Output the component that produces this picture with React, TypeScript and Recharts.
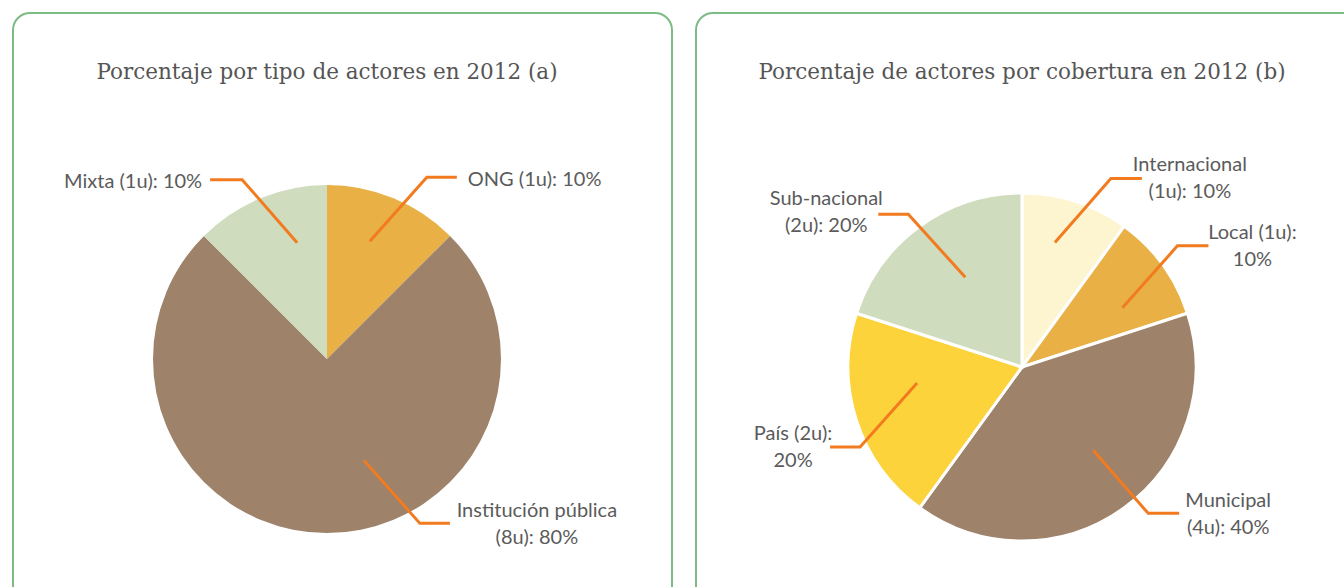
import React from 'react';
import { PieChart, Pie, Cell } from 'recharts';

// Panel (a): tipo de actores
const tipoNames = ['ONG', 'Institución pública', 'Mixta'];
const tipoShares = [12.5, 75, 12.5]; // slice sizes as drawn in the original
const tipoLabels = [['ONG (1u): 10%'], ['Institución pública', '(8u): 80%'], ['Mixta (1u): 10%']];
const tipoColors = ['#e9b045', '#9e826a', '#cfdcbe'];

// Panel (b): cobertura
const coberturaNames = ['Internacional', 'Local', 'Municipal', 'País', 'Sub-nacional'];
const coberturaShares = [10, 10, 40, 20, 20];
const coberturaLabels = [
    ['Internacional', '(1u): 10%'],
    ['Local (1u):', '10%'],
    ['Municipal', '(4u): 40%'],
    ['País (2u):', '20%'],
    ['Sub-nacional', '(2u): 20%'],
];
const coberturaColors = ['#fdf4d0', '#e9b045', '#9e826a', '#fcd33b', '#cfdcbe'];

const tipoData = tipoNames.map((name, i) => ({ name, value: tipoShares[i] }));
const coberturaData = coberturaNames.map((name, i) => ({ name, value: coberturaShares[i] }));

// leader line layout: anchor angle (deg clockwise from top), anchor distance (fraction of radius),
// elbow offset, horizontal tail, text offset from tail end
type LabelLayout = { a: number; d: number; ex: number; ey: number; h: number; tx: number; ty: number; anchor: 'start' | 'middle' | 'end' };

const tipoLayout: LabelLayout[] = [
    { a: 20, d: 0.72, ex: 57, ey: -64, h: 30, tx: 11, ty: 1, anchor: 'start' },
    { a: 160, d: 0.62, ex: 56, ey: 63, h: 30, tx: 87, ty: -1, anchor: 'middle' },
    { a: 345.6, d: 0.69, ex: -55, ey: -63, h: -32, tx: -8, ty: 0, anchor: 'end' },
];
const coberturaLayout: LabelLayout[] = [
    { a: 14.8, d: 0.74, ex: 56, ey: -64, h: 31, tx: 48, ty: -2, anchor: 'middle' },
    { a: 59.5, d: 0.67, ex: 55, ey: -62, h: 31, tx: 44, ty: -1, anchor: 'middle' },
    { a: 139.5, d: 0.63, ex: 55, ey: 63, h: 31, tx: 49, ty: -1, anchor: 'middle' },
    { a: 261.3, d: 0.61, ex: -57, ey: 64, h: -30, tx: -37, ty: -2, anchor: 'middle' },
    { a: 327.7, d: 0.61, ex: -57, ey: -63, h: -30, tx: -52, ty: -4, anchor: 'middle' },
];

const LINE = '#f27b20';
const TEXT = '#5b5b5b';
const LABEL_FONT = 'Lato, "Open Sans", sans-serif';

const makeLabel = (layout: LabelLayout[], labels: string[][]) => (props: any) => {
    const { cx, cy, outerRadius, index } = props;
    const l = layout[index];
    const rad = (l.a * Math.PI) / 180;
    const x0 = cx + l.d * outerRadius * Math.sin(rad);
    const y0 = cy - l.d * outerRadius * Math.cos(rad);
    const x1 = x0 + l.ex;
    const y1 = y0 + l.ey;
    const x2 = x1 + l.h;
    const lines = labels[index];
    const lh = 27;
    const top = y1 + l.ty - ((lines.length - 1) * lh) / 2;
    return (
        <g key={`lbl-${index}`}>
            <polyline points={`${x0},${y0} ${x1},${y1} ${x2},${y1}`} fill="none" stroke={LINE} strokeWidth={3} />
            {lines.map((t, k) => (
                <text
                    key={k}
                    x={x2 + l.tx}
                    y={top + k * lh}
                    textAnchor={l.anchor}
                    dominantBaseline="central"
                    fill={TEXT}
                    fontSize={20}
                    fontFamily={LABEL_FONT}
                >
                    {t}
                </text>
            ))}
        </g>
    );
};

const panelStyle = (left: number, width: number): React.CSSProperties => ({
    position: 'absolute',
    left,
    top: 12,
    width,
    height: 620,
    border: '2px solid #7dbb85',
    borderRadius: 18,
    boxSizing: 'border-box',
    background: '#fff',
});

const titleStyle = (center: number): React.CSSProperties => ({
    position: 'absolute',
    left: center - 320,
    width: 640,
    top: 59,
    textAlign: 'center',
    fontFamily: '"DejaVu Serif", serif',
    fontSize: 21.5,
    lineHeight: '26px',
    color: '#555',
    whiteSpace: 'nowrap',
});

export default function App() {
    return (
        <div style={{ position: 'absolute', left: 0, top: 0, width: 1344, height: 587, overflow: 'hidden', background: '#fff' }}>
            <div style={panelStyle(12, 661)} />
            <div style={panelStyle(695, 700)} />
            <div style={titleStyle(327)}>Porcentaje por tipo de actores en 2012 (a)</div>
            <div style={titleStyle(1022)}>Porcentaje de actores por cobertura en 2012 (b)</div>
            <div style={{ position: 'absolute', left: 0, top: 0 }}>
                <PieChart width={1344} height={587} margin={{ top: 0, right: 0, bottom: 0, left: 0 }}>
                    <Pie
                        data={tipoData}
                        dataKey="value"
                        nameKey="name"
                        cx={327}
                        cy={359}
                        outerRadius={174}
                        startAngle={90}
                        endAngle={-270}
                        stroke="none"
                        label={makeLabel(tipoLayout, tipoLabels)}
                        labelLine={false}
                        isAnimationActive={false}
                    >
                        {tipoData.map((entry, index) => (
                            <Cell key={`t-${index}`} fill={tipoColors[index]} />
                        ))}
                    </Pie>
                    <Pie
                        data={coberturaData}
                        dataKey="value"
                        nameKey="name"
                        cx={1022}
                        cy={367}
                        outerRadius={174}
                        startAngle={90}
                        endAngle={-270}
                        stroke="#ffffff"
                        strokeWidth={3}
                        label={makeLabel(coberturaLayout, coberturaLabels)}
                        labelLine={false}
                        isAnimationActive={false}
                    >
                        {coberturaData.map((entry, index) => (
                            <Cell key={`c-${index}`} fill={coberturaColors[index]} />
                        ))}
                    </Pie>
                </PieChart>
            </div>
        </div>
    );
}
